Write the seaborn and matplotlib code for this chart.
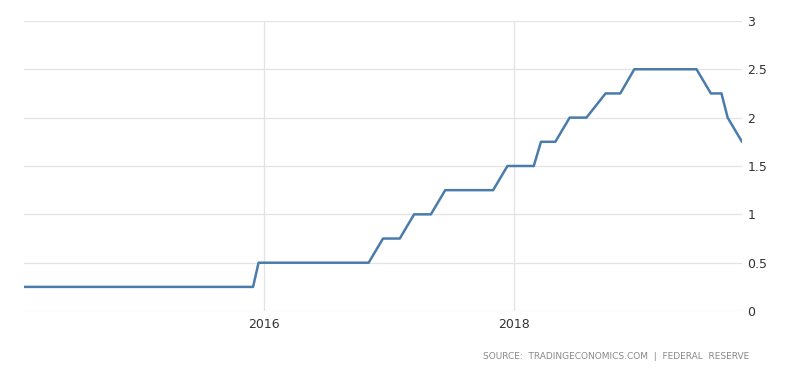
import pandas as pd
import numpy as np
import matplotlib
matplotlib.use("Agg")
import matplotlib.pyplot as plt
import matplotlib.dates as mdates
import seaborn as sns

# ── Data: Fed funds rate (upper bound) ────────────────────────────────────────
dates = [
    "2014-01-29", "2015-11-30", "2015-12-16", "2016-11-02", "2016-12-14",
    "2017-02-01", "2017-03-15", "2017-05-03", "2017-06-14", "2017-11-01",
    "2017-12-13", "2018-02-28", "2018-03-21", "2018-05-02", "2018-06-13",
    "2018-08-01", "2018-09-26", "2018-11-08", "2018-12-19", "2019-06-19",
    "2019-07-31", "2019-08-31", "2019-09-18", "2019-10-30",
]
rates = [
    0.25, 0.25, 0.50, 0.50, 0.75,
    0.75, 1.00, 1.00, 1.25, 1.25,
    1.50, 1.50, 1.75, 1.75, 2.00,
    2.00, 2.25, 2.25, 2.50, 2.50,
    2.25, 2.25, 2.00, 1.75,
]
year_ticks = ["2016-01-01", "2018-01-01"]
year_labels = ["2016", "2018"]
y_ticks = [0, 0.5, 1, 1.5, 2, 2.5, 3]
y_labels = ["0", "0.5", "1", "1.5", "2", "2.5", "3"]

df = pd.DataFrame({"date": pd.to_datetime(dates), "rate": rates})

# ── Plot ──────────────────────────────────────────────────────────────────────
sns.set_style("white")
fig = plt.figure(figsize=(8, 3.73), dpi=100)
ax = fig.add_axes([0.03, 0.166, 0.8975, 0.778])

sns.lineplot(data=df, x="date", y="rate", ax=ax, color="#4a7cab", linewidth=1.8)

ax.set_xlim(df["date"].iloc[0], df["date"].iloc[-1])
ax.set_ylim(0, 3)

ax.set_xticks(pd.to_datetime(year_ticks))
ax.set_xticklabels(year_labels)
ax.set_yticks(y_ticks)
ax.set_yticklabels(y_labels)
ax.yaxis.tick_right()

ax.grid(True, axis="y", color="#e3e3e3", linewidth=0.9)
ax.grid(True, axis="x", color="#e3e3e3", linewidth=0.9)
ax.set_axisbelow(True)
for s in ax.spines.values():
    s.set_visible(False)

ax.tick_params(axis="both", length=0, labelsize=9, colors="#333333")
ax.tick_params(axis="y", pad=4)
ax.tick_params(axis="x", pad=5)
ax.set_xlabel("")
ax.set_ylabel("")

fig.text(0.937, 0.045, "SOURCE:  TRADINGECONOMICS.COM  |  FEDERAL  RESERVE",
         ha="right", va="center", fontsize=6.5, color="#888888")

fig.savefig("out.png", dpi=100)
